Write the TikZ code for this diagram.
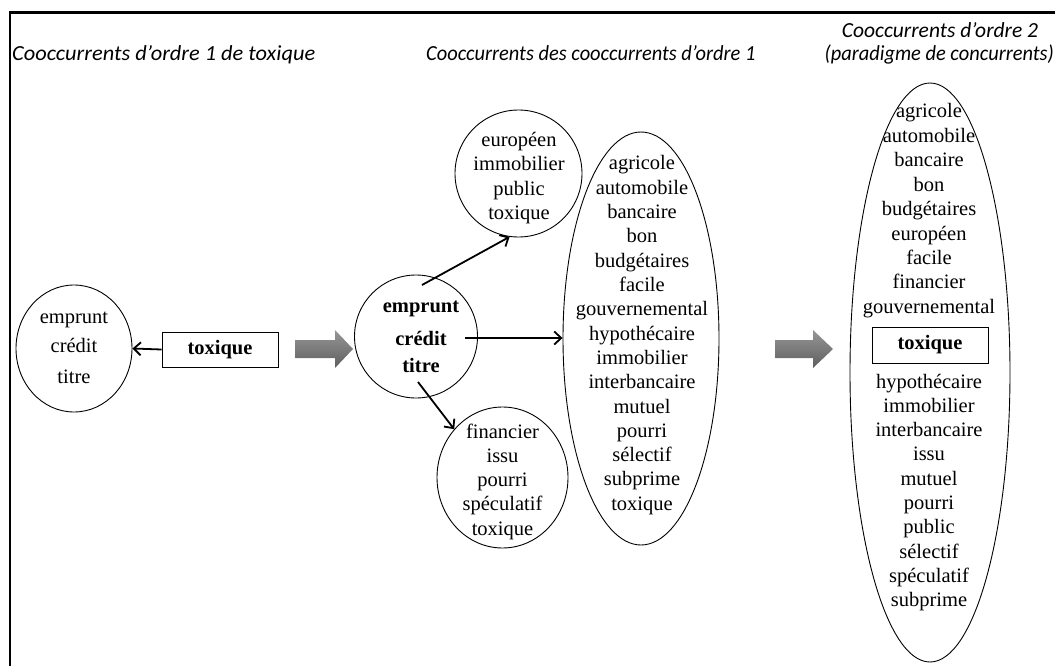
\documentclass[tikz,border=0pt]{standalone}
\usepackage{fontspec}
\setmainfont{Liberation Serif}
\newfontfamily\titlefont{Carlito}
\usetikzlibrary{arrows.meta,shapes.geometric}
\definecolor{arrowtop}{RGB}{150,150,150}
\definecolor{arrowbot}{RGB}{95,95,95}
\begin{document}
\begin{tikzpicture}[x=1pt,y=-1pt,
  word/.style={anchor=base,inner sep=0pt,font=\fontsize{20.5}{24}\selectfont},
  bword/.style={anchor=base,inner sep=0pt,font=\fontsize{20.5}{24}\selectfont\bfseries},
  ttl/.style={inner sep=0pt,font=\titlefont\itshape\fontsize{21.5}{26}\selectfont},
  oval/.style={ellipse,draw,line width=0.9pt,inner sep=0pt},
  link/.style={line width=1.8pt,-{Straight Barb[length=7pt,width=13pt,line width=1.8pt]}},
  tbox/.style={draw,line width=0.9pt,minimum width=116pt,minimum height=35pt,inner sep=0pt,font=\fontsize{20.5}{24}\selectfont\bfseries},
  bigarrow/.style={top color=arrowtop,bottom color=arrowbot,draw=none}
]
\useasboundingbox (0,0) rectangle (1055,666);
% frame
\draw[line width=2.5pt] (10,666) -- (10,12.5) -- (1055,12.5);
% titles
\node[ttl,anchor=base west,xscale=1.04] (t1) at (12,61) {Cooccurrents d’ordre 1 de toxique};
\node[ttl,anchor=base west,xscale=0.95] (t2) at (426,61) {Cooccurrents des cooccurrents d’ordre 1};
\node[ttl,anchor=base] (t3a) at (940,38) {Cooccurrents d’ordre 2};
\node[ttl,anchor=base east,xscale=0.95] (t3b) at (1054,61) {(paradigme de concurrents)};
% left circle
\node[oval,minimum width=116pt,minimum height=127pt] (lc) at (74,348.5) {};
\foreach \w/\y [count=\i] in {emprunt/323,crédit/352,titre/383}
  \node[word] (lw\i) at (74,\y) {\w};
% toxique box
\node[tbox] (tb) at (220,349.5) {toxique};
\draw[link] (tb.west) -- (lc.east);
% big arrow 1
\path[bigarrow] (295,340) -- (335,340) -- (335,330) -- (353,349) -- (335,368) -- (335,358) -- (295,358) -- cycle;
% middle circle
\node[oval,minimum width=123pt,minimum height=123pt] (mc) at (416,336.5) {};
\foreach \w/\y [count=\i] in {emprunt/312,crédit/345,titre/372}
  \node[bword] (mw\i) at (421,\y) {\w};
% top circle
\node[oval,minimum width=127pt,minimum height=127pt] (tc) at (518.5,173.5) {};
\foreach \w [count=\i] in {européen,immobilier,public,toxique}
  \node[word] (tw\i) at (519,147+24*\i-24) {\w};
% bottom circle
\node[oval,minimum width=131pt,minimum height=141pt] (bc) at (502.5,477.5) {};
\foreach \w [count=\i] in {financier,issu,pourri,spéculatif,toxique}
  \node[word] (bw\i) at (502.5,438+24.3*\i-24.3) {\w};
% middle ellipse
\node[oval,minimum width=156pt,minimum height=413pt] (me) at (641,338.5) {};
\foreach \w [count=\i] in {agricole,automobile,bancaire,bon,budgétaires,facile,gouvernemental,hypothécaire,immobilier,interbancaire,mutuel,pourri,sélectif,subprime,toxique}
  \node[word] (ew\i) at (642,170+24.3*\i-24.3) {\w};
% connectors from middle circle
\coordinate (s1) at (422,285);
\coordinate (s2) at (465,338);
\coordinate (s3) at (418,382);
\draw[link] (s1) -- (tc.262);
\draw[link] (s2) -- (me.west |- s2);
\draw[link] (s3) -- (bc.135);
% big arrow 2
\path[bigarrow] (775,340) -- (813,340) -- (813,330) -- (833,349) -- (813,368) -- (813,358) -- (775,358) -- cycle;
% right ellipse
\node[oval,minimum width=160pt,minimum height=579pt] (re) at (930,372.5) {};
\foreach \w [count=\i] in {agricole,automobile,bancaire,bon,budgétaires,européen,facile,financier,gouvernemental}
  \node[word] (rw\i) at (929,118+24.4*\i-24.4) {\w};
\node[tbox,minimum height=36pt] (rb) at (930,345) {toxique};
\foreach \w [count=\i] in {hypothécaire,immobilier,interbancaire,issu,mutuel,pourri,public,sélectif,spéculatif,subprime}
  \node[word] (rv\i) at (929,388+24.3*\i-24.3) {\w};
\end{tikzpicture}
\end{document}
